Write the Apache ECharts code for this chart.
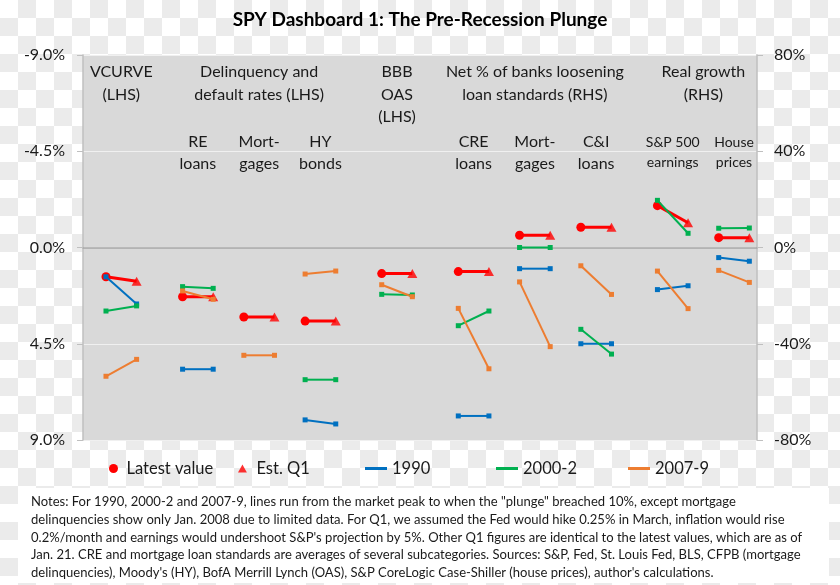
<!DOCTYPE html>
<html>
<head>
<meta charset="utf-8">
<script src="https://cdn.jsdelivr.net/npm/echarts@6/dist/echarts.min.js"></script>
<style>
html,body{margin:0;padding:0;}
body{width:840px;height:585px;overflow:hidden;
  background: repeating-conic-gradient(#ebebeb 0 25%, #ffffff 0 50%) 0 0/36px 36px;}
#chart{width:840px;height:585px;}
</style>
</head>
<body>
<div id="chart"></div>
<script>
// ---------------- data ----------------
const categories = ['VCURVE', 'RE loans', 'Mortgages (delinquencies)', 'HY bonds', 'BBB OAS',
  'CRE loans', 'Mortgages (standards)', 'C&I loans', 'S&P 500 earnings', 'House prices'];
const axisSide = ['left', 'left', 'left', 'left', 'left', 'right', 'right', 'right', 'right', 'right'];
const groupIndex = [0, 1, 1, 1, 2, 3, 3, 3, 4, 4];

const latestValue = [1.37, 2.30, 3.25, 3.44, 1.22, -10.0, 5.1, 8.4, 17.4, 4.1];
const estQ1       = [1.58, 2.30, 3.25, 3.44, 1.22, -10.0, 5.1, 8.4, 10.3, 4.1];

const y1990Start = [1.37, 5.69, null, 8.06, null, -70.0, -8.8, -40.0, -17.5, -4.2];
const y1990End   = [2.64, 5.69, null, 8.25, null, -70.0, -8.8, -40.0, -15.9, -5.7];
const y2000Start = [2.97, 1.83, null, 6.18, 2.19, -32.5, 0.0, -34.0, 19.6, 8.0];
const y2000End   = [2.73, 1.91, null, 6.18, 2.22, -26.4, 0.0, -44.3, 5.9, 8.1];
const y2007Start = [6.02, 2.03, 5.04, 1.24, 1.74, -25.3, -14.3, -7.6, -9.8, -9.5];
const y2007End   = [5.23, 2.42, 5.04, 1.10, 2.30, -50.4, -41.2, -19.5, -25.4, -14.5];

const leftTicks = [-9, -4.5, 0, 4.5, 9];
const rightTicks = [-80, -40, 0, 40, 80];

const groupHeaders = [
  ['VCURVE', '(LHS)'],
  ['Delinquency and', 'default rates (LHS)'],
  ['BBB', 'OAS', '(LHS)'],
  ['Net % of banks loosening', 'loan standards (RHS)'],
  ['Real growth', '(RHS)']
];
const subLabels = [null, ['RE', 'loans'], ['Mort-', 'gages'], ['HY', 'bonds'], null,
  ['CRE', 'loans'], ['Mort-', 'gages'], ['C&I', 'loans'], ['S&P 500', 'earnings'], ['House', 'prices']];

const titleText = 'SPY Dashboard 1: The Pre-Recession Plunge';
const noteLines = [
  'Notes: For 1990, 2000-2 and 2007-9, lines run from the market peak to when the "plunge" breached 10%, except mortgage',
  'delinquencies show only Jan. 2008 due to limited data. For Q1, we assumed the Fed would hike 0.25% in March, inflation would rise',
  "0.2%/month and earnings would undershoot S&P's projection by 5%. Other Q1 figures are identical to the latest values, which are as of",
  'Jan. 21. CRE and mortgage loan standards are averages of several subcategories. Sources: S&P, Fed, St. Louis Fed, BLS, CFPB (mortgage',
  "delinquencies), Moody's (HY), BofA Merrill Lynch (OAS), S&P CoreLogic Case-Shiller (house prices), author's calculations."
];

// ---------------- styling ----------------
const FONT = 'Lato, "Open Sans", sans-serif';
const TXT = '#1a1a1a';
const recessions = [
  { name: '1990',   start: y1990Start, end: y1990End, color: '#0070c0' },
  { name: '2000-2', start: y2000Start, end: y2000End, color: '#00b050' },
  { name: '2007-9', start: y2007Start, end: y2007End, color: '#ed7d31' }
];

function slotX(i) { return 2 * i + 0.5 * groupIndex[i]; }

const series = [];
categories.forEach((c, i) => {
  const yi = axisSide[i] === 'left' ? 0 : 1;
  const x0 = slotX(i), x1 = x0 + 1;
  series.push({
    name: 'Latest value', type: 'line', yAxisIndex: yi, z: 3,
    data: [{ value: [x0, latestValue[i]], symbol: 'circle', symbolSize: 9 },
           { value: [x1, estQ1[i]], symbol: 'none' }],
    lineStyle: { color: '#ff0000', width: 3 },
    itemStyle: { color: '#ff0000' },
    emphasis: { disabled: true }
  });
  series.push({
    name: 'Est. Q1', type: 'scatter', yAxisIndex: yi, z: 3,
    data: [[x1, estQ1[i]]], symbol: 'triangle', symbolSize: [10, 9],
    itemStyle: { color: '#ff0000' },
    emphasis: { disabled: true }
  });
  recessions.forEach(r => {
    if (r.start[i] == null) return;
    series.push({
      name: r.name, type: 'line', yAxisIndex: yi, z: 4,
      data: [[x0, r.start[i]], [x1, r.end[i]]],
      symbol: 'rect', symbolSize: 5, showSymbol: true,
      lineStyle: { color: r.color, width: 2 },
      itemStyle: { color: r.color },
      emphasis: { disabled: true }
    });
  });
});

function legendItem(name, icon, left, w, h, color) {
  return {
    data: [{ name: name, icon: icon, itemStyle: { color: color } }],
    left: left, top: 460, padding: 0,
    itemWidth: w, itemHeight: h,
    selectedMode: false,
    textStyle: { fontFamily: FONT, fontSize: 16.5, color: TXT }
  };
}

const option = {
  animation: false,
  backgroundColor: 'transparent',
  title: {
    text: titleText, left: 'center', top: 10, padding: 0,
    textStyle: { fontFamily: FONT, fontSize: 19, fontWeight: 'bold', color: '#000' }
  },
  grid: {
    left: 83, right: 83, top: 55, bottom: 145,
    show: true, backgroundColor: '#d9d9d9', borderWidth: 0
  },
  legend: [
    legendItem('Latest value', 'circle', 109, 16, 9, '#ff0000'),
    legendItem('Est. Q1', 'path://M5,0 L10,9 L0,9 Z', 238, 18, 8, '#ff0000'),
    legendItem('1990', 'rect', 365, 22, 3, '#0070c0'),
    legendItem('2000-2', 'rect', 496, 22, 3, '#00b050'),
    legendItem('2007-9', 'rect', 628, 22, 3, '#ed7d31')
  ],
  xAxis: {
    type: 'value', min: -0.75, max: 21.25,
    axisLine: { show: true, onZero: true, lineStyle: { color: '#a6a6a6', width: 1.5 } },
    axisTick: { show: false }, axisLabel: { show: false }, splitLine: { show: false }
  },
  yAxis: [
    {
      type: 'value', inverse: true, position: 'left',
      min: leftTicks[0], max: leftTicks[leftTicks.length - 1], interval: leftTicks[1] - leftTicks[0],
      axisLine: { show: true, onZero: false, lineStyle: { color: '#bfbfbf', width: 1.5 } },
      axisTick: { show: true, length: 6, lineStyle: { color: '#bfbfbf' } },
      axisLabel: { margin: 18, fontFamily: FONT, fontSize: 16, color: TXT,
        formatter: v => v.toFixed(1) + '%' },
      splitLine: { show: true, lineStyle: { color: '#f0f0f0', width: 1 } }
    },
    {
      type: 'value', position: 'right',
      min: rightTicks[0], max: rightTicks[rightTicks.length - 1], interval: rightTicks[1] - rightTicks[0],
      axisLine: { show: true, onZero: false, lineStyle: { color: '#bfbfbf', width: 1.5 } },
      axisTick: { show: true, length: 6, lineStyle: { color: '#bfbfbf' } },
      axisLabel: { margin: 17, fontFamily: FONT, fontSize: 16, color: TXT,
        formatter: v => v + '%' },
      splitLine: { show: false }
    }
  ],
  series: series
};

const chart = echarts.init(document.getElementById('chart'), null, { renderer: 'canvas', devicePixelRatio: 1 });
chart.setOption(option);

// -------- annotations placed through the x scale --------
const px = v => chart.convertToPixel({ xAxisIndex: 0 }, v);
const groupCats = [[0], [1, 2, 3], [4], [5, 6, 7], [8, 9]];
const graphics = [];
groupHeaders.forEach((lines, g) => {
  const cats = groupCats[g];
  const cx = (px(slotX(cats[0])) + px(slotX(cats[cats.length - 1]) + 1)) / 2;
  graphics.push({
    type: 'text', x: cx, y: 60.5, z: 100, silent: true,
    style: { text: lines.join('\n'), fontFamily: FONT, fontSize: 16, lineHeight: 22.6,
      fill: TXT, align: 'center', verticalAlign: 'top' }
  });
});
subLabels.forEach((lines, i) => {
  if (!lines) return;
  const small = i >= 8;
  const cx = px(slotX(i) + 0.5);
  graphics.push({
    type: 'text', x: cx, y: small ? 132 : 131, z: 100, silent: true,
    style: { text: lines.join('\n'), fontFamily: FONT, fontSize: small ? 14 : 16,
      lineHeight: small ? 20.5 : 22, fill: TXT, align: 'center', verticalAlign: 'top' }
  });
});

// notes box
const ctx = document.createElement('canvas').getContext('2d');
ctx.font = '14px ' + FONT;
const longest = Math.max(...noteLines.map(l => ctx.measureText(l).width));
const noteScale = 771 / longest;
graphics.push({ type: 'rect', z: 90, silent: true,
  shape: { x: 18, y: 488, width: 811, height: 95 }, style: { fill: '#ffffff' } });
graphics.push({
  type: 'text', x: 31, y: 492.8, z: 100, silent: true, scaleX: noteScale, scaleY: 1,
  style: { text: noteLines.join('\n'), fontFamily: FONT, fontSize: 14, lineHeight: 17.75,
    fill: TXT, align: 'left', verticalAlign: 'top' }
});
chart.setOption({ graphic: graphics });
</script>
</body>
</html>
